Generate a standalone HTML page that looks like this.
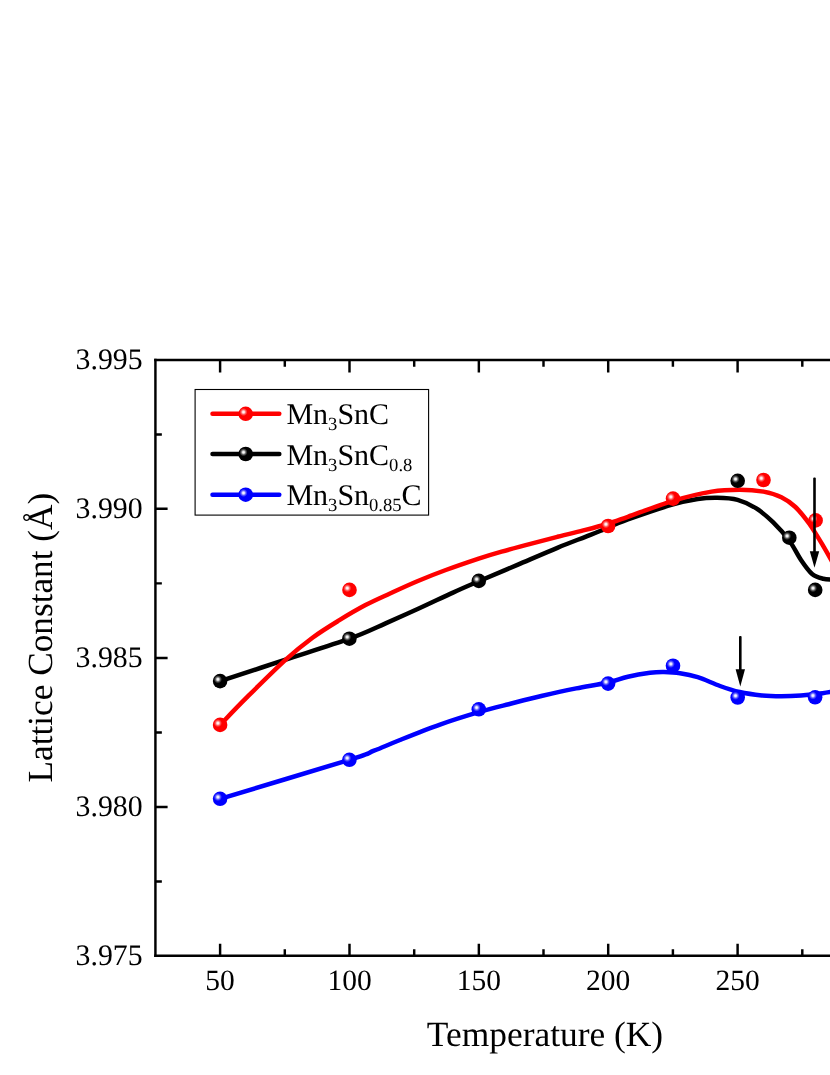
<!DOCTYPE html>
<html>
<head>
<meta charset="utf-8">
<title>Lattice Constant vs Temperature</title>
<style>
html,body{margin:0;padding:0;background:#fff;}
body{width:830px;height:1075px;overflow:hidden;font-family:"Liberation Serif",serif;}
svg{display:block;will-change:transform;}
text{font-family:"Liberation Serif",serif;fill:#000;text-rendering:geometricPrecision;}
</style>
</head>
<body>
<svg width="830" height="1075" viewBox="0 0 830 1075">
<defs>
<radialGradient id="gr" cx="0.35" cy="0.38" r="0.5" fx="0.35" fy="0.38">
<stop offset="0" stop-color="#ffffff"/><stop offset="0.14" stop-color="#ffe4e4"/><stop offset="0.34" stop-color="#ff5a5a"/><stop offset="0.55" stop-color="#ff0000"/><stop offset="1" stop-color="#ff0000"/>
</radialGradient>
<radialGradient id="gk" cx="0.35" cy="0.38" r="0.5" fx="0.35" fy="0.38">
<stop offset="0" stop-color="#ffffff"/><stop offset="0.14" stop-color="#e8e8e8"/><stop offset="0.34" stop-color="#5c5c5c"/><stop offset="0.55" stop-color="#000000"/><stop offset="1" stop-color="#000000"/>
</radialGradient>
<radialGradient id="gb" cx="0.35" cy="0.38" r="0.5" fx="0.35" fy="0.38">
<stop offset="0" stop-color="#ffffff"/><stop offset="0.14" stop-color="#e4e4ff"/><stop offset="0.34" stop-color="#5a5aff"/><stop offset="0.55" stop-color="#0000ff"/><stop offset="1" stop-color="#0000ff"/>
</radialGradient>
</defs>
<rect x="0" y="0" width="830" height="1075" fill="#ffffff"/>

<!-- curves -->
<g fill="none" stroke-width="4.5" stroke-linecap="round" stroke-linejoin="round">
<path id="cb" stroke="#0000ff" d="M220.1,798.8 C241.6,792.3 323.8,767.8 349.4,759.8 C375.0,751.8 365.6,754.0 374.0,750.7 C382.4,747.4 389.0,744.4 400.0,740.0 C411.0,735.6 426.9,729.2 440.0,724.6 C453.1,720.0 467.2,715.6 478.7,712.2 C490.1,708.8 498.1,706.9 508.7,704.2 C519.3,701.5 531.1,698.4 542.4,695.8 C553.6,693.2 565.3,690.6 576.2,688.4 C587.1,686.2 599.2,684.5 607.8,682.5 C616.4,680.5 620.9,678.3 627.9,676.7 C634.9,675.1 644.0,673.6 650.0,672.8 C656.0,672.0 659.0,671.9 664.0,672.0 C669.0,672.1 674.4,672.3 680.0,673.2 C685.6,674.1 691.0,675.1 697.7,677.2 C704.4,679.3 713.0,683.5 720.0,686.0 C727.0,688.5 732.6,690.4 739.6,692.0 C746.6,693.6 754.9,694.7 761.9,695.4 C768.9,696.1 774.9,696.2 781.4,696.2 C787.9,696.2 795.0,695.9 801.0,695.5 C807.0,695.1 812.2,694.5 817.7,693.8 C823.2,693.1 831.3,691.7 834.0,691.3"/>
<path id="ck" stroke="#000000" d="M220.1,681.1 C230.8,677.6 262.4,667.3 284.0,660.2 C305.6,653.1 332.5,644.8 349.4,638.7 C366.3,632.6 374.0,628.5 385.6,623.4 C397.2,618.3 408.1,613.4 419.3,608.3 C430.5,603.2 443.1,597.1 453.0,592.6 C462.9,588.1 467.9,586.0 478.7,581.3 C489.5,576.6 504.9,570.2 518.0,564.6 C531.1,559.0 546.2,552.4 557.4,547.8 C568.6,543.2 578.3,539.6 585.4,536.8 C592.5,534.0 592.9,533.9 600.0,531.0 C607.1,528.1 615.7,523.9 627.9,519.5 C640.1,515.1 661.5,507.8 673.1,504.4 C684.7,501.0 690.4,500.1 697.7,499.0 C705.1,497.9 710.6,497.7 717.2,497.8 C723.9,497.9 731.1,498.1 737.6,499.9 C744.1,501.7 750.4,504.7 756.3,508.4 C762.2,512.1 767.5,516.9 773.0,522.2 C778.5,527.6 784.5,534.2 789.2,540.5 C793.9,546.8 797.2,554.4 801.0,560.0 C804.8,565.6 808.4,570.9 812.1,574.0 C815.8,577.1 819.6,577.8 823.3,578.7 C826.9,579.6 832.2,579.4 834.0,579.5"/>
<path id="cr" stroke="#ff0000" d="M220.1,724.9 C224.5,720.4 235.3,708.8 246.3,697.9 C257.3,687.0 275.0,669.4 286.0,659.4 C297.0,649.4 303.7,644.2 312.5,637.7 C321.3,631.2 330.2,625.8 339.0,620.4 C347.8,615.0 357.0,609.6 365.5,605.1 C374.0,600.6 381.3,597.5 390.0,593.5 C398.7,589.5 408.6,584.9 417.9,581.0 C427.2,577.1 435.7,573.7 445.8,570.0 C455.9,566.3 469.4,561.7 478.7,558.6 C488.0,555.5 493.1,554.0 501.6,551.6 C510.1,549.2 520.2,546.6 529.5,544.1 C538.8,541.6 548.1,539.2 557.4,536.8 C566.7,534.4 577.1,532.0 585.4,529.9 C593.7,527.8 600.0,526.2 607.1,524.0 C614.2,521.8 616.9,520.7 627.9,516.8 C638.9,512.9 659.1,505.0 673.1,500.8 C687.1,496.6 700.5,493.5 711.6,491.6 C722.7,489.8 731.0,489.7 739.6,489.7 C748.2,489.7 756.5,490.4 763.5,491.6 C770.5,492.9 776.1,494.6 781.4,497.2 C786.7,499.8 790.8,502.6 795.4,507.0 C800.0,511.4 804.6,517.2 809.3,523.7 C813.9,530.2 819.2,539.2 823.3,546.1 C827.4,553.0 832.2,561.9 834.0,565.0"/>
</g>

<!-- markers -->
<g id="mk">
<g fill="url(#gb)">
<circle cx="220.1" cy="798.8" r="7.3"/><circle cx="349.4" cy="759.8" r="7.3"/><circle cx="478.8" cy="709.3" r="7.3"/><circle cx="608.1" cy="683.6" r="7.3"/><circle cx="673.0" cy="665.7" r="7.3"/><circle cx="737.7" cy="697.5" r="7.3"/><circle cx="815.1" cy="697.3" r="7.3"/>
</g>
<g fill="url(#gk)">
<circle cx="220.1" cy="681.1" r="7.3"/><circle cx="349.4" cy="638.7" r="7.3"/><circle cx="478.8" cy="580.9" r="7.3"/><circle cx="737.7" cy="480.8" r="7.3"/><circle cx="789.3" cy="537.7" r="7.3"/><circle cx="815.2" cy="589.9" r="7.3"/>
</g>
<g fill="url(#gr)">
<circle cx="220.1" cy="724.9" r="7.3"/><circle cx="349.5" cy="589.9" r="7.3"/><circle cx="608.1" cy="526" r="7.3"/><circle cx="673.0" cy="498.6" r="7.3"/><circle cx="763.5" cy="480.0" r="7.3"/><circle cx="815.6" cy="520.4" r="7.3"/>
</g>
</g>

<!-- arrows -->
<g id="arrows" fill="#000" stroke="none">
<rect x="813.2" y="477.4" width="2.6" height="76" rx="1"/>
<path d="M809.8,551.2 L814.5,567.8 L819.2,551.2 Z"/>
<rect x="739" y="636" width="2.6" height="35" rx="1"/>
<path d="M735.6,669.2 L740.3,686.5 L745,669.2 Z"/>
</g>

<!-- axes -->
<g id="axes" stroke="#000" stroke-width="2.45" fill="none" stroke-linecap="butt">
<path d="M155.42,358.77500000000003 V957.0999999999999"/>
<path d="M154.195,360.05 H832" stroke-width="2.55"/>
<path d="M154.195,955.8 H832" stroke-width="2.6"/>
<path d="M220.1,955.8V943.7 M349.5,955.8V943.7 M478.85,955.8V943.7 M608.2,955.8V943.7 M737.6,955.8V943.7"/>
<path d="M284.8,955.8V949.3 M414.2,955.8V949.3 M543.5,955.8V949.3 M672.9,955.8V949.3 M802.3,955.8V949.3"/>
<path d="M220.1,360.05V372.5 M349.5,360.05V372.5 M478.85,360.05V372.5 M608.2,360.05V372.5 M737.6,360.05V372.5"/>
<path d="M284.8,360.05V366.7 M414.2,360.05V366.7 M543.5,360.05V366.7 M672.9,360.05V366.7 M802.3,360.05V366.7"/>
<path d="M155.42,508.82H167.6 M155.42,657.9H167.6 M155.42,807.0H167.6"/>
<path d="M155.42,434.4H161.85 M155.42,583.35H161.85 M155.42,732.45H161.85 M155.42,881.4H161.85"/>
</g>

<!-- tick labels -->
<g id="ylab" font-size="29.8" text-anchor="end">
<text x="142.6" y="368.6">3.995</text>
<text x="142.6" y="517.6">3.990</text>
<text x="142.6" y="666.7">3.985</text>
<text x="142.6" y="815.8">3.980</text>
<text x="142.6" y="964.9">3.975</text>
</g>
<g id="xlab" font-size="29.5" text-anchor="middle">
<text x="220.1" y="990.0">50</text>
<text x="349.5" y="990.0">100</text>
<text x="478.85" y="990.0">150</text>
<text x="608.2" y="990.0">200</text>
<text x="737.6" y="990.0">250</text>
</g>

<!-- axis titles -->
<text id="xt" x="545" y="1046.2" font-size="35.4" text-anchor="middle">Temperature (K)</text>
<text id="yt" transform="translate(51.8,637.6) rotate(-90)" font-size="35.25" text-anchor="middle">Lattice Constant (Å)</text>

<!-- legend -->
<g id="legend">
<rect x="195.1" y="389.5" width="233.5" height="125.6" fill="#fff" stroke="#000" stroke-width="1.1"/>
<g stroke-width="4.5" stroke-linecap="round">
<path d="M212.5,413.8H279.3" stroke="#ff0000"/>
<path d="M212.5,454.0H279.3" stroke="#000"/>
<path d="M212.5,494.7H279.3" stroke="#0000ff"/>
</g>
<circle cx="245.7" cy="413.8" r="7.3" fill="url(#gr)"/>
<circle cx="245.7" cy="454.0" r="7.3" fill="url(#gk)"/>
<circle cx="245.7" cy="494.7" r="7.3" fill="url(#gb)"/>
<g font-size="30">
<text x="286.4" y="424.1">Mn<tspan font-size="18.6" dy="6">3</tspan><tspan dy="-6">SnC</tspan></text>
<text x="286.4" y="464.8">Mn<tspan font-size="18.6" dy="6">3</tspan><tspan dy="-6">SnC</tspan><tspan font-size="18.6" dy="6">0.8</tspan></text>
<text x="286.4" y="505.3">Mn<tspan font-size="18.6" dy="6">3</tspan><tspan dy="-6">Sn</tspan><tspan font-size="18.6" dy="6">0.85</tspan><tspan dy="-6">C</tspan></text>
</g>
</g>
</svg>
</body>
</html>
